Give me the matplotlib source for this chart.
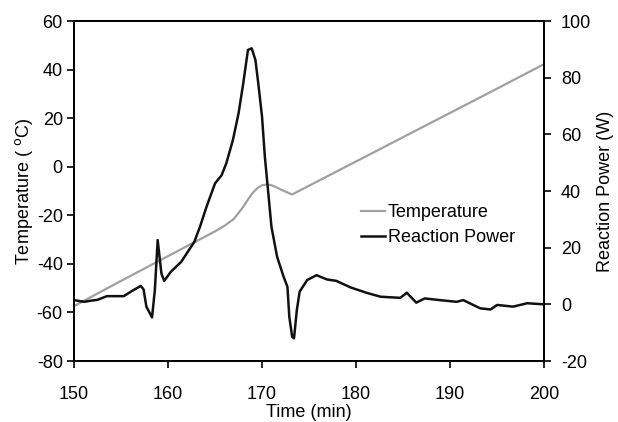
import numpy as np
import matplotlib
matplotlib.use('Agg')
import matplotlib.pyplot as plt

# Datos
t_temp = [150, 155, 160, 165, 166, 167, 167.5, 168, 168.5, 169, 169.5, 170, 170.5,
          171, 171.5, 172, 172.6, 173.2, 175, 180, 185, 190, 195, 200]
temp = [-57.4, -47.0, -36.8, -26.6, -24.3, -21.5, -19.0, -16.5, -13.5, -10.8, -8.8, -7.6, -7.3,
        -7.6, -8.4, -9.4, -10.4, -11.4, -7.8, 2.2, 12.2, 22.2, 32.2, 42.3]

t_pow = [150.0, 151.1, 151.8, 152.5, 153.5, 155.3, 156.2, 157.1, 157.4, 157.7, 158.3,
         158.6, 158.9, 159.3, 159.6, 160.3, 161.4, 162.8, 163.4, 164.1, 165.0, 165.7,
         166.2, 166.9, 167.5, 168.0, 168.5, 168.9, 169.3, 169.6, 170.0, 170.3, 170.7,
         171.0, 171.6, 172.3, 172.7, 172.9, 173.2, 173.4, 173.7, 174.0, 174.8, 175.8,
         176.9, 177.9, 179.4, 181.1, 182.6, 184.7, 185.4, 186.4, 187.3, 188.9, 190.7,
         191.4, 193.2, 194.3, 195.0, 196.7, 198.2, 200.0]
power = [1.5, 0.9, 1.3, 1.6, 2.9, 2.9, 4.8, 6.5, 5.3, -0.8, -4.6,
         5.0, 22.7, 10.9, 8.3, 11.5, 15.0, 22.1, 27.4, 34.5, 42.7, 45.6,
         49.8, 58.0, 67.4, 78.0, 89.8, 90.4, 86.2, 78.0, 66.2, 52.1, 38.0,
         27.4, 16.8, 9.7, 6.2, -4.4, -11.4, -12.0, -2.0, 4.5, 8.6, 10.3,
         8.8, 8.3, 6.0, 4.1, 2.7, 2.3, 4.1, 0.6, 2.1, 1.5, 0.9,
         1.5, -1.4, -1.8, -0.2, -0.8, 0.4, 0.0]

plt.rcParams['font.family'] = ['Liberation Sans', 'DejaVu Sans']
plt.rcParams['font.size'] = 13
plt.rcParams['axes.unicode_minus'] = False

fig = plt.figure(figsize=(6.18, 4.22), dpi=100)
ax = fig.add_axes([0.1197, 0.1445, 0.7608, 0.8055])
ax2 = ax.twinx()

l1, = ax.plot(t_temp, temp, color='#a0a0a0', lw=1.6, label='Temperature')
l2, = ax2.plot(t_pow, power, color='#111111', lw=1.8, label='Reaction Power')

ax.set_xlim(150, 200)
ax.set_ylim(-80, 60)
ax2.set_ylim(-20, 100)
ax.set_xticks([150, 160, 170, 180, 190, 200])
ax.set_yticks(np.arange(-80, 61, 20))
ax2.set_yticks(np.arange(-20, 101, 20))

for a in (ax, ax2):
    a.tick_params(direction='out', length=5, width=1.2, pad=3, labelsize=13)
    for s in a.spines.values():
        s.set_linewidth(1.3)
ax.tick_params(axis='x', pad=13)
ax2.tick_params(axis='y', pad=7)

ax.set_xlabel('Time (min)', labelpad=1)
ax.set_ylabel('Temperature ( $^{\\mathrm{o}}$C)', labelpad=1)
ax2.set_ylabel('Reaction Power (W)', labelpad=4)

ax.legend(handles=[l1, l2], frameon=False, loc='center left',
          bbox_to_anchor=(0.575, 0.40), handlelength=1.35, handletextpad=0.15,
          labelspacing=0.45, fontsize=13)

fig.savefig('out.png', dpi=100)
